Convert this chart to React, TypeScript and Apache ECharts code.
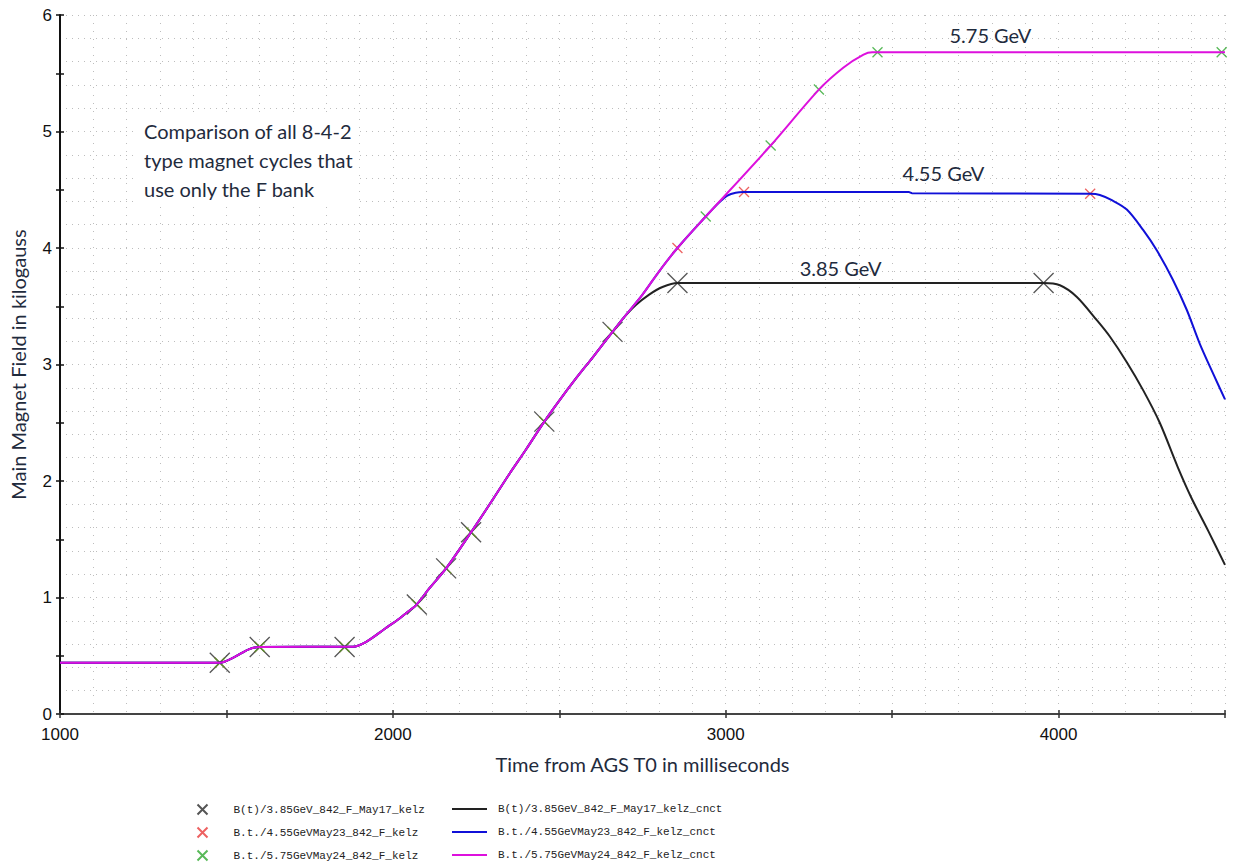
import React, { useEffect, useRef } from "react";
import * as echarts from "echarts";

// ---- data (time in ms, field in kilogauss) ----
const rampCommon: [number, number][] = [
  [1000, 0.44], [1480, 0.44], [1525, 0.49], [1567, 0.555], [1600, 0.575],
  [1880, 0.578], [1920, 0.62], [1975, 0.73], [2020, 0.82], [2046, 0.88],
  [2070, 0.935], [2110, 1.08], [2160, 1.25], [2235, 1.56], [2300, 1.84],
  [2350, 2.06], [2400, 2.27], [2455, 2.51], [2500, 2.69], [2550, 2.88],
  [2600, 3.06], [2660, 3.28], [2690, 3.39],
];
const tail385: [number, number][] = [
  [2730, 3.51], [2770, 3.60], [2810, 3.665], [2855, 3.70], [3955, 3.70],
  [4004, 3.68], [4055, 3.58], [4115, 3.38], [4154, 3.24], [4205, 3.02],
  [4254, 2.78], [4304, 2.50], [4358, 2.12], [4400, 1.85], [4450, 1.57],
  [4500, 1.28],
];
const tail455: [number, number][] = [
  [2750, 3.60], [2800, 3.80], [2855, 4.0], [2940, 4.27], [2980, 4.39],
  [3005, 4.45], [3030, 4.475], [3055, 4.48], [3550, 4.48], [3560, 4.47],
  [4095, 4.465], [4124, 4.455], [4160, 4.41], [4205, 4.33], [4254, 4.155],
  [4295, 3.98], [4343, 3.73], [4385, 3.47], [4424, 3.18], [4463, 2.93],
  [4500, 2.70],
];
const tail575: [number, number][] = [
  [2750, 3.60], [2800, 3.80], [2855, 4.0], [2940, 4.27], [3135, 4.88],
  [3280, 5.36], [3354, 5.55], [3414, 5.66], [3440, 5.68], [4500, 5.68],
];

const marksShared: [number, number][] = [
  [1480, 0.44], [1600, 0.575], [1855, 0.575], [2072, 0.94], [2160, 1.25],
  [2235, 1.56], [2455, 2.51], [2660, 3.28],
];
const marks385Tail: [number, number][] = [[2855, 3.70], [3955, 3.70]];
const marks455Tail: [number, number][] = [[2855, 4.0], [3055, 4.48], [4095, 4.465]];
const marks575Tail: [number, number][] = [
  [2940, 4.27], [3135, 4.88], [3280, 5.36], [3456, 5.68], [4490, 5.68],
];

const markerNames = [
  "B(t)/3.85GeV_842_F_May17_kelz",
  "B.t./4.55GeVMay23_842_F_kelz",
  "B.t./5.75GeVMay24_842_F_kelz",
];
const lineNames = [
  "B(t)/3.85GeV_842_F_May17_kelz_cnct",
  "B.t./4.55GeVMay23_842_F_kelz_cnct",
  "B.t./5.75GeVMay24_842_F_kelz_cnct",
];
const energyLabels = ["3.85 GeV", "4.55 GeV", "5.75 GeV"];
const energyLabelAt: [number, number][] = [[3345, 3.70], [3654, 4.48], [3795, 5.68]];

const CROSS = "path://M0,0L10,10M10,0L0,10";
const TEXT_COLOR = "#1f2b3d";

export default function App() {
  const ref = useRef<HTMLDivElement>(null);
  useEffect(() => {
    if (!ref.current) return;
    const chart = echarts.init(ref.current, null, { renderer: "svg" });

    const markerColors = ["#2a2a2a", "#e83a3a", "#2ea82e"];
    const markerSizes = [20, 10, 10];
    const lineColors = ["#222222", "#1010d8", "#dd10dd"];
    const markData = [
      [...marksShared, ...marks385Tail],
      [...marksShared, ...marks455Tail],
      [...marksShared, ...marks575Tail],
    ];
    const lineData = [
      [...rampCommon, ...tail385],
      [...rampCommon, ...tail455],
      [...rampCommon, ...tail575],
    ];
    const labelDist = [4, 9, 7];

    const series: any[] = [];
    markerNames.forEach((n, i) => {
      series.push({
        type: "scatter",
        name: n,
        data: markData[i],
        symbol: CROSS,
        symbolSize: markerSizes[i],
        itemStyle: { color: "none", borderColor: markerColors[i], borderWidth: 1.3 },
        z: 2,
      });
    });
    lineNames.forEach((n, i) => {
      series.push({
        type: "line",
        name: n,
        data: lineData[i],
        symbol: "none",
        showSymbol: false,
        smooth: 0.3,
        lineStyle: { color: lineColors[i], width: 2 },
        itemStyle: { color: lineColors[i] },
        z: 3,
        markPoint: {
          symbol: "circle",
          symbolSize: 1,
          itemStyle: { color: "rgba(0,0,0,0)" },
          data: [
            {
              coord: energyLabelAt[i],
              label: {
                show: true,
                position: "top",
                distance: labelDist[i],
                formatter: energyLabels[i],
                fontFamily: "Lato",
                fontSize: 20,
                color: TEXT_COLOR,
              },
            },
          ],
        },
      });
    });

    const legendText = {
      fontFamily: "Liberation Mono",
      fontSize: 11,
      lineHeight: 14,
      color: "#222",
    };

    // one legend per row so nothing wraps
    const legends: any[] = [];
    markerNames.forEach((n, i) => {
      legends.push({
        data: [{ name: n, icon: CROSS }],
        orient: "horizontal",
        left: 195,
        top: 802 + i * 23,
        padding: 0,
        itemWidth: 52,
        itemHeight: 10,
        selectedMode: false,
        textStyle: legendText,
      });
    });
    lineNames.forEach((n, i) => {
      legends.push({
        data: [{ name: n, icon: "rect" }],
        orient: "horizontal",
        left: 452,
        top: 802 + i * 23,
        padding: 0,
        itemWidth: 35,
        itemHeight: 2,
        selectedMode: false,
        textStyle: { ...legendText, padding: [0, 0, 0, 6] },
      });
    });

    chart.setOption({
      animation: false,
      backgroundColor: "#ffffff",
      grid: { left: 58, right: 8, top: 15, bottom: 151 },
      xAxis: [
        {
          type: "value",
          min: 1000,
          max: 4500,
          interval: 500,
          position: "bottom",
          axisLine: { lineStyle: { color: "#444", width: 2 } },
          axisTick: { inside: true, length: 4, lineStyle: { color: "#333", width: 1.5 } },
          axisLabel: {
            formatter: (v: number) => (v % 1000 === 0 ? String(v) : ""),
            fontFamily: "Liberation Sans",
            fontSize: 17,
            color: "#111",
            margin: 12,
          },
          splitLine: { show: false },
          name: "Time from AGS T0 in milliseconds",
          nameLocation: "middle",
          nameGap: 40,
          nameTextStyle: { fontFamily: "Lato", fontSize: 20, color: TEXT_COLOR },
        },
        {
          type: "value",
          min: 1000,
          max: 4500,
          interval: 500,
          position: "bottom",
          axisLine: { show: false },
          axisTick: { inside: false, length: 4, lineStyle: { color: "#333", width: 1.5 } },
          axisLabel: { show: false },
          splitLine: { show: false },
        },
        {
          type: "value",
          min: 1000,
          max: 4500,
          interval: 100,
          position: "top",
          axisLine: { show: false },
          axisTick: { show: false },
          axisLabel: { show: false },
          splitLine: { show: true, lineStyle: { color: "#bdbdbd", width: 1, type: [1, 7] } },
        },
      ],
      yAxis: [
        {
          type: "value",
          min: 0,
          max: 6,
          interval: 0.5,
          position: "left",
          axisLine: { show: true, lineStyle: { color: "#111", width: 2 } },
          axisTick: { show: true, inside: true, length: 4, lineStyle: { color: "#111", width: 1.5 } },
          axisLabel: {
            formatter: (v: number) => (Number.isInteger(v) ? String(v) : ""),
            fontFamily: "Liberation Sans",
            fontSize: 17,
            color: "#111",
            margin: 8,
          },
          splitLine: { show: false },
          name: "Main Magnet Field in kilogauss",
          nameLocation: "middle",
          nameGap: 32,
          nameTextStyle: { fontFamily: "Lato", fontSize: 20, color: TEXT_COLOR },
        },
        {
          type: "value",
          min: 0,
          max: 6,
          interval: 0.5,
          position: "left",
          axisLine: { show: false },
          axisTick: { show: true, inside: false, length: 4, lineStyle: { color: "#111", width: 1.5 } },
          axisLabel: { show: false },
          splitLine: { show: false },
        },
        {
          type: "value",
          min: 0,
          max: 6,
          interval: 0.2,
          position: "right",
          axisLine: { show: false },
          axisTick: { show: false },
          axisLabel: { show: false },
          splitLine: { show: true, lineStyle: { color: "#bdbdbd", width: 1, type: [1, 5] } },
        },
      ],
      legend: legends,
      graphic: [
        {
          type: "text",
          left: 138,
          top: 112,
          z: 10,
          style: {
            text: "Comparison of all 8-4-2\ntype magnet cycles that\nuse only the F bank",
            fontFamily: "Lato",
            fontSize: 20,
            lineHeight: 29,
            fill: TEXT_COLOR,
            backgroundColor: "#ffffff",
            padding: [4, 6, 4, 6],
          },
        },
      ],
      series,
    });

    return () => chart.dispose();
  }, []);

  return (
    <div
      ref={ref}
      style={{ position: "fixed", left: 0, top: 0, width: 1233, height: 865 }}
    />
  );
}
